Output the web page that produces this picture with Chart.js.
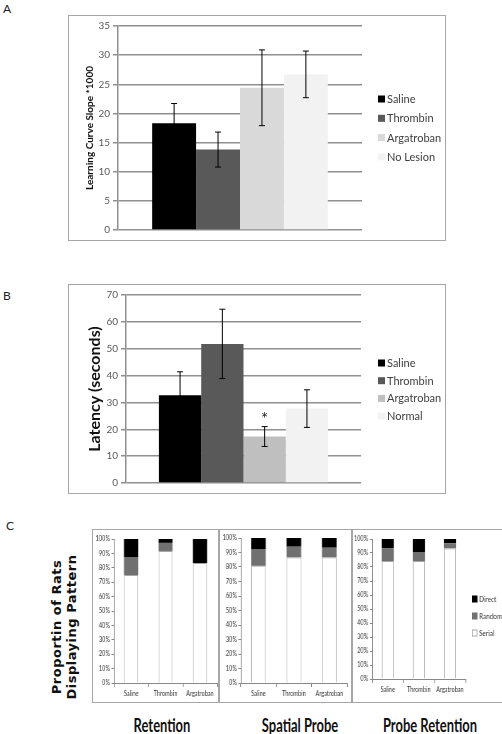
<!DOCTYPE html>
<html>
<head>
<meta charset="utf-8">
<script src="https://cdn.jsdelivr.net/npm/chart.js@4.4.1/dist/chart.umd.min.js"></script>
<style>
  body { margin: 0; background: #fff; font-family: Lato, sans-serif; }
  #page { position: relative; width: 502px; height: 734px; overflow: hidden; }
  .lbl { position: absolute; font-size: 12px; color: #222; }
  .box { position: absolute; border: 1px solid #a6a6a6; box-sizing: border-box; }
  .box canvas { position: absolute; left: 0; top: 0; }
  .ctitle { position: absolute; top: 714px; width: 140px; text-align: center;
            font: bold 18px Lato, sans-serif; color: #111; transform: scaleX(0.72); }
  #yTitleC { position: absolute; left: -10px; top: 611px; width: 150px; height: 32px;
             line-height: 16px; text-align: center; transform: rotate(-90deg);
             font: bold 13px "DejaVu Sans", sans-serif; letter-spacing: 0.5px; color: #111; }
</style>
</head>
<body>
<div id="page">
  <div class="lbl" style="left:3px;top:1px">A</div>
  <div class="lbl" style="left:3px;top:288px">B</div>
  <div class="lbl" style="left:6px;top:518px">C</div>

  <div class="box" style="left:68px;top:15px;width:378px;height:226px"><canvas id="chartA" width="376" height="224"></canvas></div>
  <div class="box" style="left:68px;top:284px;width:378px;height:210px"><canvas id="chartB" width="376" height="208"></canvas></div>
  <!-- panel C charts are drawn wider and squeezed to 80% like the original -->
  <div class="box" style="left:92px;top:529px;width:127px;height:174px"><canvas id="chartC1" width="156" height="172" style="width:125px;height:172px"></canvas></div>
  <div class="box" style="left:219px;top:529px;width:133px;height:174px"><canvas id="chartC2" width="164" height="172" style="width:131px;height:172px"></canvas></div>
  <div class="box" style="left:352px;top:529px;width:152px;height:174px"><canvas id="chartC3" width="188" height="172" style="width:150px;height:172px"></canvas></div>

  <div id="yTitleC">Proportin of Rats<br>Displaying Pattern</div>
  <div class="ctitle" style="left:92px">Retention</div>
  <div class="ctitle" style="left:230px">Spatial Probe</div>
  <div class="ctitle" style="left:360px">Probe Retention</div>
</div>

<script>
// ---- data ----
const groupsA = ["Saline", "Thrombin", "Argatroban", "No Lesion"];
const slopeA = [18.3, 13.8, 24.4, 26.7];
const slopeErrA = [3.4, 3.0, 6.5, 4.0];

const groupsB = ["Saline", "Thrombin", "Argatroban", "Normal"];
const latencyB = [32.7, 51.8, 17.3, 27.7];
const latencyErrB = [8.7, 12.9, 3.7, 7.0];

const drugs = ["Saline", "Thrombin", "Argatroban"];
const patterns = ["Serial", "Random", "Direct"];
const retentionSerial = [75, 91.7, 83.3];
const retentionRandom = [12.5, 5.6, 0];
const retentionDirect = [12.5, 2.7, 16.7];
const spatialSerial = [80.8, 86.6, 86.6];
const spatialRandom = [11.6, 7.4, 6.7];
const spatialDirect = [7.6, 6.0, 6.7];
const probeSerial = [84.2, 84.2, 93.3];
const probeRandom = [9.3, 6.5, 3.6];
const probeDirect = [6.5, 9.3, 3.1];

const percentTicks = [0, 10, 20, 30, 40, 50, 60, 70, 80, 90, 100];

/**
 * error bars + optional star
 */
const errorBars = {
    id: "errorBars",
    afterDatasetsDraw(chart, args, opts) {
        if (!opts.errors) return;
        const ctx = chart.ctx;
        const y = chart.scales.y;
        chart.data.datasets.forEach((ds, i) => {
            const bar = chart.getDatasetMeta(i).data[0];
            const v = ds.data[0], e = opts.errors[i];
            const top = y.getPixelForValue(v + e), bot = y.getPixelForValue(v - e);
            ctx.save();
            ctx.strokeStyle = "#000";
            ctx.lineWidth = 1;
            ctx.beginPath();
            ctx.moveTo(bar.x, top); ctx.lineTo(bar.x, bot);
            ctx.moveTo(bar.x - 3, top); ctx.lineTo(bar.x + 3, top);
            ctx.moveTo(bar.x - 3, bot); ctx.lineTo(bar.x + 3, bot);
            ctx.stroke();
            if (opts.star === i) {
                ctx.fillStyle = "#222";
                ctx.font = "17px Lato";
                ctx.textAlign = "center";
                ctx.textBaseline = "middle";
                ctx.fillText("*", bar.x, top - 7);
            }
            ctx.restore();
        });
    }
};

/**
 * legend at fixed spot
 */
const sideLegend = {
    id: "sideLegend",
    afterDraw(chart, args, o) {
        if (o.x === undefined) return;
        const ctx = chart.ctx;
        let items = chart.data.datasets.slice();
        if (o.reverse) items.reverse();
        ctx.save();
        items.forEach((ds, k) => {
            const cy = o.y + k * o.gap;
            ctx.fillStyle = ds.backgroundColor;
            ctx.fillRect(o.x, cy - o.box / 2, o.box, o.box);
            if (ds.borderWidth) {
                ctx.strokeStyle = ds.borderColor;
                ctx.lineWidth = 1;
                ctx.strokeRect(o.x + 0.5, cy - o.box / 2 + 0.5, o.box - 1, o.box - 1);
            }
            ctx.fillStyle = o.color;
            ctx.font = o.font;
            ctx.textBaseline = "middle";
            ctx.fillText(ds.label, o.x + o.box + 2, cy + 0.5);
        });
        ctx.restore();
    }
};

Chart.register(errorBars, sideLegend);

const gridGray = "#8f8f8f";

function groupChart(id, groups, values, errs, colors, cfg) {
    new Chart(document.getElementById(id), {
        type: "bar",
        data: {
            labels: [""],
            datasets: groups.map((g, i) => ({
                label: g,
                data: [values[i]],
                backgroundColor: colors[i],
                barPercentage: 1,
                categoryPercentage: 0.72
            }))
        },
        options: {
            responsive: false,
            animation: false,
            layout: { padding: { left: 0, top: 10, right: cfg.padRight, bottom: 10 } },
            plugins: {
                legend: { display: false },
                tooltip: { enabled: false },
                errorBars: { errors: errs, star: cfg.star },
                sideLegend: { x: 309, y: cfg.legY, gap: cfg.legGap, box: 7, font: "11px Lato", color: "#404040" }
            },
            scales: {
                x: {
                    ticks: { display: false },
                    grid: { display: false },
                    border: { display: false },
                    afterFit: s => { s.height = 0; }
                },
                y: {
                    min: 0,
                    max: cfg.max,
                    ticks: { stepSize: cfg.step, color: "#595959", font: { family: "Lato", size: 10 }, padding: 3 },
                    grid: { color: gridGray, lineWidth: 1.5, tickLength: 5 },
                    border: { color: gridGray, width: 1.5 },
                    title: { display: true, text: cfg.title, color: "#111", font: cfg.titleFont, padding: { top: cfg.titlePad } },
                    afterFit: s => { s.width = cfg.axisW; }
                }
            }
        }
    });
}

groupChart("chartA", groupsA, slopeA, slopeErrA, ["#000000", "#595959", "#d9d9d9", "#f2f2f2"], {
    padRight: 83, max: 35, step: 5, axisW: 49, legY: 83, legGap: 19.3,
    title: "Learning Curve Slope *1000", titleFont: { family: "Lato", size: 10, weight: "bold" }, titlePad: 15
});

groupChart("chartB", groupsB, latencyB, latencyErrB, ["#000000", "#595959", "#bfbfbf", "#f2f2f2"], {
    padRight: 84, max: 70, step: 10, axisW: 57, legY: 78, legGap: 17.7, star: 2,
    title: "Latency (seconds)", titleFont: { family: "Lato", size: 16, weight: "bold" }, titlePad: 16
});

const smallFont = { family: "Lato", size: 7 };

// sizes below are in canvas units (the canvas is shown at 80% width)
function patternChart(id, serial, random, direct, cfg) {
    const vals = [serial, random, direct];
    const fills = ["#ffffff", "#707070", "#000000"];
    new Chart(document.getElementById(id), {
        type: "bar",
        data: {
            labels: drugs,
            datasets: patterns.map((p, i) => ({
                label: p,
                data: vals[i],
                backgroundColor: fills[i],
                borderColor: i === 0 ? "#a6a6a6" : fills[i],
                borderWidth: i === 0 ? 1 : 0,
                barPercentage: 1,
                categoryPercentage: cfg.catPct
            }))
        },
        options: {
            responsive: false,
            animation: false,
            layout: { padding: { left: 0, top: cfg.padTop, right: cfg.padRight, bottom: 0 } },
            plugins: {
                legend: { display: false },
                tooltip: { enabled: false },
                sideLegend: cfg.legend || {}
            },
            scales: {
                x: {
                    stacked: true,
                    ticks: { color: "#333", font: smallFont, padding: 3, maxRotation: 0, autoSkip: false },
                    grid: { drawOnChartArea: false, color: "#888", tickLength: 4 },
                    border: { color: "#888" },
                    afterFit: s => { s.height = cfg.xH; }
                },
                y: {
                    stacked: true,
                    min: 0,
                    max: 100,
                    afterBuildTicks: s => { s.ticks = percentTicks.map(v => ({ value: v })); },
                    ticks: { color: "#333", font: smallFont, padding: 2, callback: v => v + "%" },
                    grid: { drawOnChartArea: false, color: "#888", tickLength: 3 },
                    border: { color: "#888" },
                    afterFit: s => { s.width = cfg.axisW; }
                }
            }
        }
    });
}

patternChart("chartC1", retentionSerial, retentionRandom, retentionDirect,
    { catPct: 0.41, padTop: 9, padRight: 1, xH: 19, axisW: 26 });
patternChart("chartC2", spatialSerial, spatialRandom, spatialDirect,
    { catPct: 0.41, padTop: 8, padRight: 5, xH: 19, axisW: 26 });
patternChart("chartC3", probeSerial, probeRandom, probeDirect,
    { catPct: 0.39, padTop: 9, padRight: 47, xH: 23, axisW: 24,
      legend: { x: 149, y: 69, gap: 17, box: 7, font: "8px Lato", color: "#333", reverse: true } });
</script>
</body>
</html>
